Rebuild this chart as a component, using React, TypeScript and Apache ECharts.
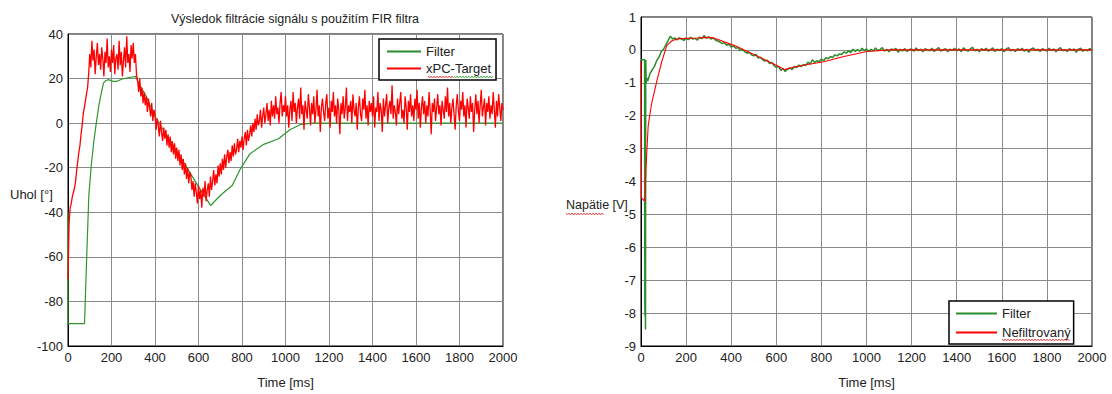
import React, { useEffect, useRef } from "react";
import * as echarts from "echarts";

// ---------- DATA ----------
const LEFT_SAMPLE_MS = 5;
const RIGHT_SAMPLE_MS = 10;

// Left chart: unfiltered angle (xPC-Target), sampled every 5 ms from 0 to 2000 ms
const leftRedValues = [
  -70, -45, -38, -36, -33, -31, -29, -26, -21, -17, -13, -10, -5, -1, 4, 7, 10, 13, 16, 22,
  31, 25, 37, 28, 33, 22, 30, 36, 26, 31, 24, 34, 29, 21, 32, 27, 38, 25, 30, 23,
  33, 27, 35, 22, 29, 31, 24, 37, 26, 32, 21, 28, 34, 25, 39, 27, 31, 23, 35, 29,
  36, 27, 31, 22, 19, 14, 20, 12, 16, 9, 14, 8, 12, 5, 11, 7, 3, 9, 1, 6,
  4, -3, 2, -1, -6, 1, -4, -8, -2, -7, -3, -10, -5, -11, -6, -13, -8, -14, -9, -16,
  -11, -17, -12, -19, -14, -21, -16, -23, -18, -25, -20, -27, -22, -24, -30, -26, -33, -27, -31, -36,
  -28, -34, -30, -38, -29, -33, -26, -35, -30, -27, -33, -24, -30, -26, -21, -28, -23, -27, -19, -24,
  -18, -23, -16, -21, -14, -20, -15, -12, -18, -13, -17, -10, -15, -9, -14, -12, -7, -13, -8, -11,
  -6, -12, -7, -4, -10, -3, -8, -5, -1, -6, 0, -4, 2, -3, 4, -1, 1, 6, -2, 3,
  7, 0, 4, 9, 1, 6, -1, 10, 3, 8, 2, 12, 4, 7, 0, 9, 14, 3, 8, 5,
  12, 3, 8, -2, 6, 10, 1, 14, 5, 9, 0, 7, 11, 2, 16, 4, 8, -3, 10, 6,
  2, 13, 7, -1, 9, 4, 12, 0, 6, 15, 3, 8, -4, 7, 11, 5, 1, 9, 13, 2,
  7, -2, 10, 5, 14, 3, 8, 0, 11, 6, -5, 9, 4, 12, 2, 7, 16, 1, 8, 5,
  10, 0, 13, 6, 3, 9, -3, 7, 12, 4, 1, 11, 6, 15, 2, 8, -1, 10, 5, 9,
  3, 12, -2, 7, 5, 14, 1, 9, 6, -4, 11, 3, 8, 13, 0, 7, 10, 4, 17, 2,
  8, 5, -1, 11, 4, 9, 14, 2, 6, 0, 12, 7, -3, 10, 5, 13, 3, 8, 1, 11,
  6, 15, 2, 9, -2, 7, 12, 4, 10, 0, 8, 3, 14, 6, -5, 9, 5, 11, 1, 7,
  13, 4, 8, -1, 10, 6, 2, 12, 5, 16, 3, 9, 0, 7, 11, 4, -3, 8, 13, 5,
  1, 10, 6, 14, 3, 8, -2, 11, 7, 2, 12, 5, 9, -4, 6, 13, 4, 10, 0, 8,
  15, 3, 7, 11, -1, 9, 5, 12, 2, 8, 4, 14, 6, -2, 10, 3, 13, 7, 1, 9,
  6,
];

// Left chart: FIR-filtered angle [time ms, angle deg]
const leftGreenPoints = [
  [0, -40], [0, -90], [76, -90], [86, -60], [96, -32], [108, -18], [119, -8],
  [130, 0], [142, 8], [152, 13], [163, 18], [172, 19], [185, 19.5], [200, 19],
  [215, 18.6], [230, 19], [250, 19.8], [270, 20.2], [290, 20.6], [310, 21],
  [330, 17], [360, 12], [400, 3], [450, -5], [500, -12.5], [550, -20.5],
  [600, -28.5], [630, -33], [656, -37], [680, -34.5], [705, -32], [730, -30],
  [755, -28], [790, -21], [837, -13.7], [900, -9.5], [968, -7], [1020, -3],
  [1067, -0.7], [1120, 0], [1264, 0], [2000, 0],
];

// Right chart: filtered voltage, start transient [time ms, V]
const rightGreenHead = [
  [0, -0.3], [16, -0.3], [17, -7.7], [18, -8.1], [19, -7.6], [20, -8.5],
  [21, -0.3], [23, -1.0], [26, -0.85], [30, -0.95],
];
// Right chart: filtered voltage every 10 ms from 40 ms to 2000 ms
const RIGHT_GREEN_START = 40;
const rightGreenValues = [
  -0.72, -0.6, -0.5, -0.32, -0.22, -0.05, 0.02, 0.15, 0.28, 0.42,
  0.33, 0.36, 0.3, 0.37, 0.33, 0.29, 0.36, 0.31, 0.38, 0.33,
  0.35, 0.3, 0.39, 0.34, 0.44, 0.35, 0.4, 0.33, 0.36, 0.3,
  0.27, 0.24, 0.19, 0.22, 0.14, 0.17, 0.09, 0.12, 0.05, 0.07,
  -0.02, 0.02, -0.06, -0.1, -0.07, -0.15, -0.18, -0.14, -0.25, -0.22,
  -0.3, -0.34, -0.31, -0.42, -0.38, -0.48, -0.53, -0.5, -0.62, -0.57,
  -0.66, -0.58, -0.55, -0.6, -0.5, -0.54, -0.46, -0.51, -0.44, -0.48,
  -0.37, -0.43, -0.3, -0.38, -0.33, -0.36, -0.28, -0.33, -0.24, -0.27,
  -0.2, -0.23, -0.15, -0.18, -0.12, -0.14, -0.06, -0.1, -0.03, -0.08,
  0.02, -0.05, 0.01, -0.04, 0.05, -0.02, 0.03, -0.05, 0.02, -0.03,
  0.06, -0.02, 0.01, 0.07, -0.04, 0.02, -0.06, 0.03, 0, 0.05,
  -0.07, 0.02, -0.03, 0.04, -0.05, 0.01, 0.03, -0.04, 0.06, -0.02,
  0.02, -0.06, 0.04, 0, -0.03, 0.05, -0.05, 0.02, 0.07, -0.04,
  0.01, 0.04, -0.06, 0.02, -0.02, 0.05, -0.03, 0.03, -0.05, 0.06,
  0, -0.04, 0.03, 0.08, -0.03, 0.02, -0.06, 0.04, -0.02, 0.05,
  -0.04, 0.01, 0.06, -0.05, 0.02, -0.02, 0.04, -0.06, 0.03, 0.07,
  -0.03, 0.01, -0.05, 0.04, -0.01, 0.05, -0.04, 0.02, -0.07, 0.03,
  0.06, -0.02, 0.02, -0.05, 0.04, 0, -0.04, 0.05, -0.02, 0.03,
  -0.06, 0.02, 0.07, -0.03, 0.01, -0.05, 0.04, -0.02, 0.03, -0.07,
  0.02, 0.05, -0.04, 0.01, -0.03, 0.04, -0.02,
];

// Right chart: unfiltered voltage (Nefiltrovaný) [time ms, V]
const rightRedPoints = [
  [0, -0.35], [2, -4.5], [17, -4.6], [22, -3.6], [32, -2.3], [47, -1.63],
  [70, -0.95], [92, -0.36], [114, 0.13], [136, 0.27], [158, 0.33], [200, 0.35],
  [250, 0.36], [300, 0.38], [320, 0.37], [415, 0.13], [510, -0.17], [600, -0.47],
  [637, -0.6], [680, -0.52], [732, -0.45], [811, -0.36], [900, -0.2],
  [1001, -0.05], [1100, 0], [2000, 0],
];

// Axis ticks
const timeTicks = { min: 0, max: 2000, interval: 200 };
const angleTicks = { min: -100, max: 40, interval: 20 };
const voltTicks = { min: -9, max: 1, interval: 1 };

const titleText = "Výsledok filtrácie signálu s použitím FIR filtra";
const xName = "Time [ms]";
const leftYName = "Uhol [°]";
const rightYName = "Napätie [V]";
const leftLegend = ["Filter", "xPC-Target"];
const rightLegend = ["Filter", "Nefiltrovaný"];

// ---------- STYLE ----------
const FONT = "'Liberation Sans', Arial, sans-serif";
const GREEN = "#2f962f";
const GREEN_DARK = "#2a8c2a";
const RED = "#ff0000";
const GRID_LINE = "#8a8a8a";
const TEXT = "#222";

function wavy(x0: number, x1: number, y: number) {
  const pts: number[][] = [];
  let up = true;
  for (let x = x0; x <= x1; x += 1.5) {
    pts.push([x, y + (up ? -1 : 1)]);
    up = !up;
  }
  return pts;
}

export default function App() {
  const ref = useRef<HTMLDivElement>(null);

  useEffect(() => {
    document.body.style.margin = "0";
    if (!ref.current) return;
    const chart = echarts.init(ref.current, undefined, { renderer: "svg" });

    const leftRed = leftRedValues.map((v, i) => [i * LEFT_SAMPLE_MS, v]);
    const rightGreen = [
      ...rightGreenHead,
      ...rightGreenValues.map((v, i) => [RIGHT_GREEN_START + i * RIGHT_SAMPLE_MS, v]),
    ];

    const axisLabel = {
      color: TEXT,
      fontSize: 13,
      fontFamily: FONT,
      margin: 5,
      formatter: (v: number) => String(v),
    };
    const splitLine = { show: true, lineStyle: { color: GRID_LINE, width: 1 } };
    const axisLine = { show: true, onZero: false, lineStyle: { color: "#000", width: 1 } };

    const xAxisBase = (gridIndex: number) => ({
      type: "value" as const,
      gridIndex,
      ...timeTicks,
      name: xName,
      nameLocation: "middle" as const,
      nameGap: 30,
      nameTextStyle: { color: TEXT, fontSize: 13, fontFamily: FONT },
      axisLabel,
      axisLine,
      axisTick: { show: false },
      splitLine,
    });

    const legendBase = {
      orient: "vertical" as const,
      icon: "rect",
      itemHeight: 2,
      backgroundColor: "#fff",
      borderColor: "#000",
      borderWidth: 1.5,
      borderRadius: 0,
      selectedMode: false,
      textStyle: { color: TEXT, fontSize: 13, fontFamily: FONT, lineHeight: 15 },
    };

    const option: any = {
      animation: false,
      backgroundColor: "#fff",
      grid: [
        { left: 68, top: 34, width: 435, height: 323, show: true, borderColor: "#000", borderWidth: 1, backgroundColor: "#fff" },
        { left: 641, top: 17, width: 451, height: 341, show: true, borderColor: "#000", borderWidth: 1, backgroundColor: "#fff" },
      ],
      xAxis: [xAxisBase(0), xAxisBase(1)],
      yAxis: [
        { type: "value", gridIndex: 0, ...angleTicks, axisLabel, axisLine, axisTick: { show: false }, splitLine },
        { type: "value", gridIndex: 1, ...voltTicks, axisLabel, axisLine, axisTick: { show: false }, splitLine },
      ],
      legend: [
        {
          ...legendBase,
          left: 379,
          top: 39,
          itemWidth: 34,
          itemGap: 2,
          padding: [5, 5, 4, 8],
          data: leftLegend.map((name) => ({ name })),
        },
        {
          ...legendBase,
          left: 949,
          top: 301,
          itemWidth: 41,
          itemGap: 4,
          padding: [5, 3, 4, 7],
          data: rightLegend.map((name) => ({ name })),
        },
      ],
      series: [
        {
          name: "Filter",
          type: "line",
          xAxisIndex: 1,
          yAxisIndex: 1,
          data: rightGreen,
          showSymbol: false,
          symbol: "none",
          color: GREEN_DARK,
          lineStyle: { color: GREEN_DARK, width: 1.5 },
          z: 2,
        },
        {
          name: "Filter",
          type: "line",
          xAxisIndex: 0,
          yAxisIndex: 0,
          data: leftGreenPoints,
          showSymbol: false,
          symbol: "none",
          color: GREEN,
          lineStyle: { color: GREEN, width: 1.2 },
          z: 2,
        },
        {
          name: "xPC-Target",
          type: "line",
          xAxisIndex: 0,
          yAxisIndex: 0,
          data: leftRed,
          showSymbol: false,
          symbol: "none",
          color: RED,
          lineStyle: { color: RED, width: 1.3 },
          z: 3,
        },
        {
          name: "Nefiltrovaný",
          type: "line",
          xAxisIndex: 1,
          yAxisIndex: 1,
          data: rightRedPoints,
          showSymbol: false,
          symbol: "none",
          color: RED,
          lineStyle: { color: RED, width: 1.1 },
          z: 3,
        },
      ],
      graphic: [
        {
          type: "text",
          x: 295,
          y: 19,
          style: {
            text: titleText,
            fill: TEXT,
            fontSize: 12.5,
            fontFamily: FONT,
            align: "center",
            verticalAlign: "middle",
          },
          silent: true,
        },
        {
          type: "text",
          x: 10,
          y: 194,
          style: { text: leftYName, fill: TEXT, fontSize: 13, fontFamily: FONT, verticalAlign: "middle" },
          silent: true,
        },
        {
          type: "text",
          x: 566,
          y: 205,
          style: { text: rightYName, fill: TEXT, fontSize: 12.5, fontFamily: FONT, verticalAlign: "middle" },
          silent: true,
        },
        {
          type: "polyline",
          shape: { points: wavy(566, 604, 214) },
          style: { stroke: "#e03030", lineWidth: 0.8, fill: "none" },
          silent: true,
          z: 100,
        },
        {
          type: "polyline",
          shape: { points: wavy(428, 454, 77) },
          style: { stroke: "#e03030", lineWidth: 0.8, fill: "none" },
          silent: true,
          z: 100,
        },
        {
          type: "polyline",
          shape: { points: wavy(454, 494, 77) },
          style: { stroke: "#30a030", lineWidth: 0.8, fill: "none" },
          silent: true,
          z: 100,
        },
        {
          type: "polyline",
          shape: { points: wavy(1002, 1070, 340) },
          style: { stroke: "#e03030", lineWidth: 0.8, fill: "none" },
          silent: true,
          z: 100,
        },
      ],
    };

    chart.setOption(option);
    return () => chart.dispose();
  }, []);

  return (
    <div
      ref={ref}
      style={{ position: "fixed", left: 0, top: 0, width: 1112, height: 394, background: "#fff" }}
    />
  );
}
